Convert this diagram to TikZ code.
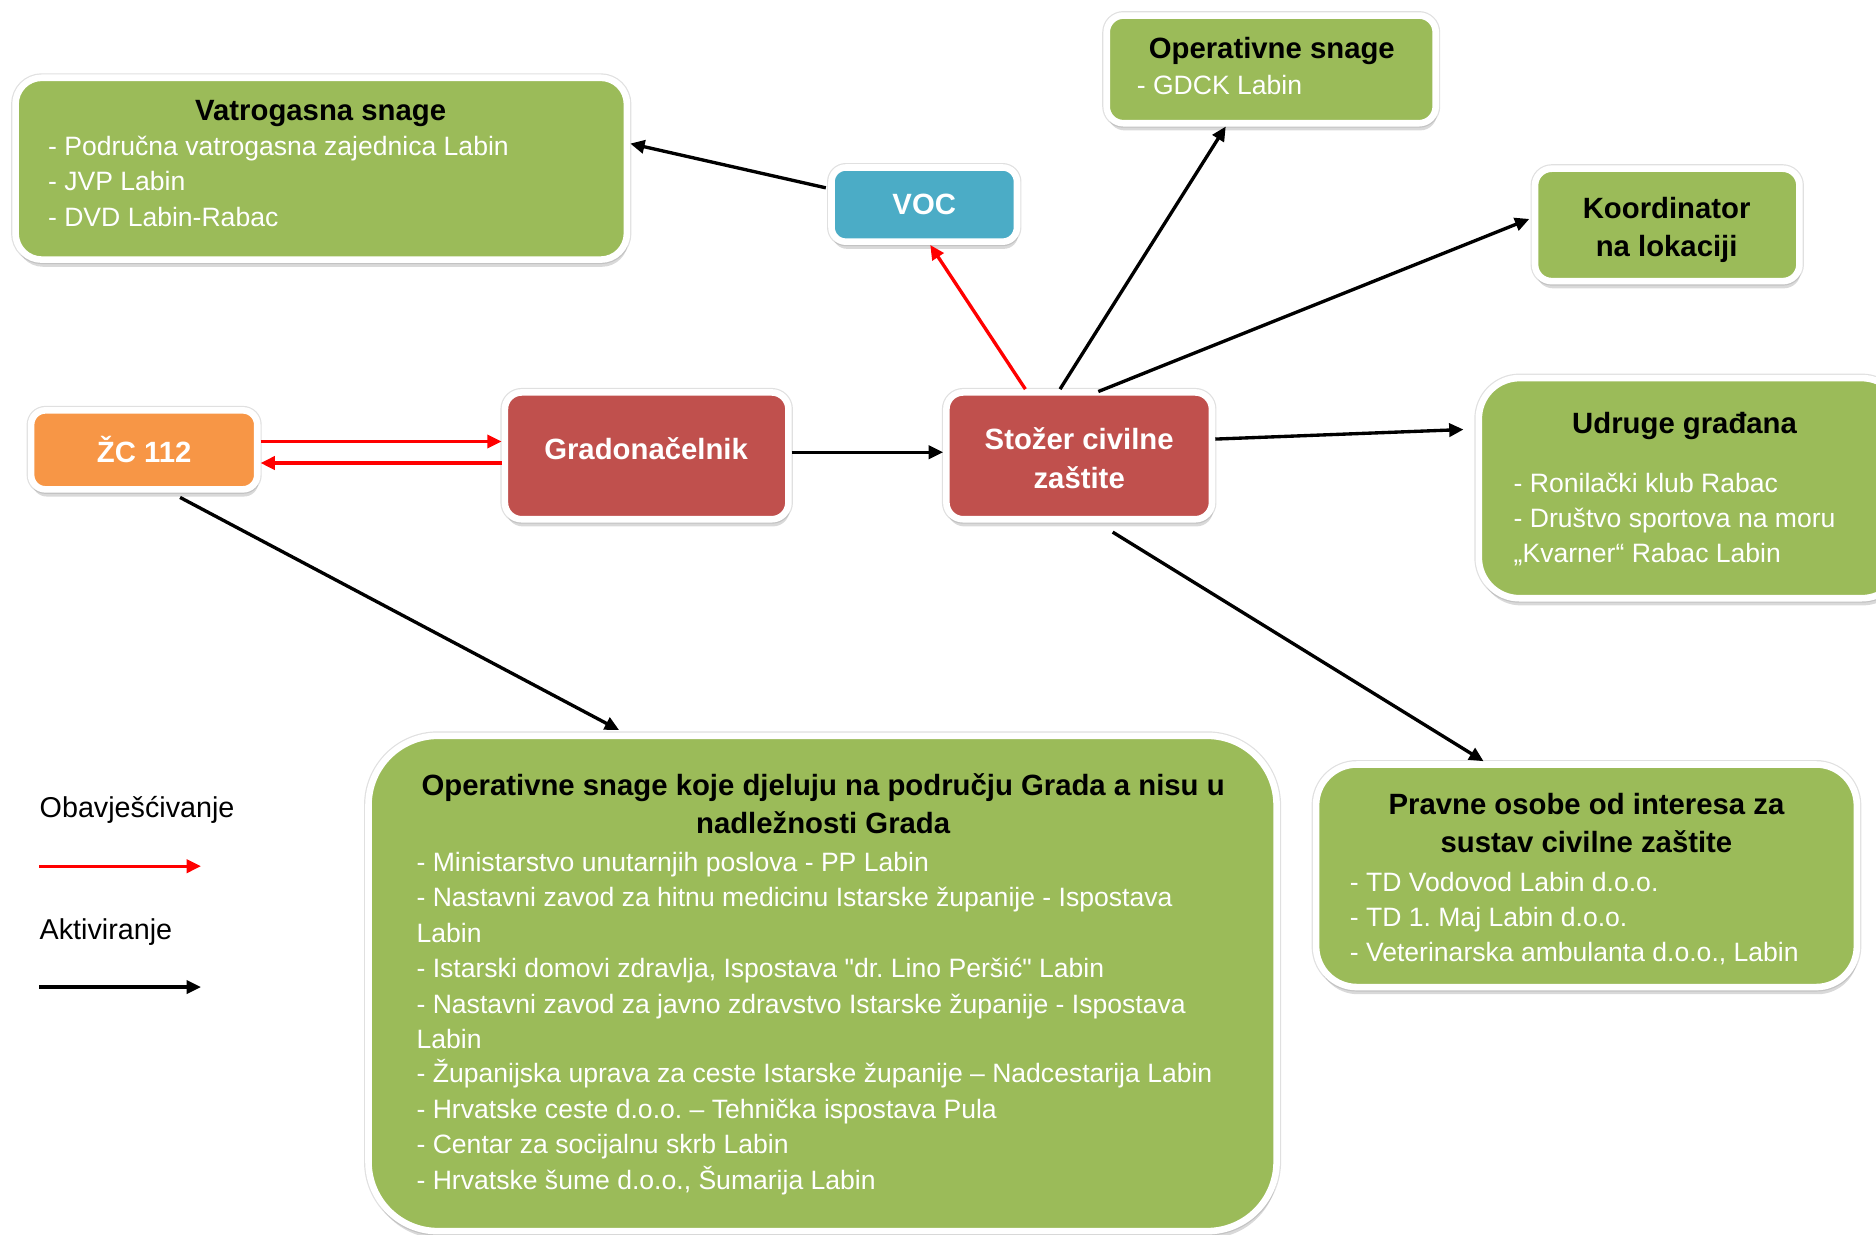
\documentclass[tikz,border=0pt]{standalone}
\usepackage{fontspec}
\setmainfont{Liberation Sans}[Ligatures=TeXOff]
\usetikzlibrary{arrows.meta,shadows,calc}
\definecolor{cgreen}{HTML}{9BBB59}
\definecolor{cblue}{HTML}{4BACC6}
\definecolor{cred}{HTML}{C0504D}
\definecolor{corange}{HTML}{F79646}
\frenchspacing
\begin{document}
\begin{tikzpicture}[x=1pt,y=-1pt,
  box/.style={draw=white, line width=5.5pt, rounded corners=#1, inner sep=0pt,
    preaction={draw=black!12, line width=7.5pt},
    drop shadow={shadow xshift=1pt, shadow yshift=-6pt, opacity=0.3, fill=black!50}},
  ttl/.style={font=\bfseries\fontsize{24.5}{32}\selectfont, text=black, anchor=base, inner sep=0pt},
  wttl/.style={font=\bfseries\fontsize{24.5}{32}\selectfont, text=white, align=center, inner sep=0pt},
  itm/.style={font=\fontsize{22.2}{26}\selectfont, text=white, anchor=base west, inner sep=0pt},
  leg/.style={font=\fontsize{24}{28}\selectfont, text=black, anchor=base west, inner sep=0pt},
  act/.style={draw=black, line width=2.8pt, -{Triangle[length=12pt,width=11pt]}},
  obv/.style={draw=red, line width=2.8pt, -{Triangle[length=12pt,width=11pt]}}]
\useasboundingbox (0,0) rectangle (1568,1032);

% boxes
\node[box=22pt, fill=cgreen, minimum width=511pt, minimum height=152pt] (vat) at (268.5,141) {};
\node[box=12pt, fill=cblue, minimum width=155pt, minimum height=62pt, wttl] (voc) at (772.5,171) {VOC};
\node[box=14pt, fill=cgreen, minimum width=275pt, minimum height=90pt] (ops) at (1062.5,58) {};
\node[box=14pt, fill=cgreen, minimum width=221pt, minimum height=94pt] (koord) at (1393.5,188) {};
\node[box=34pt, fill=cgreen, minimum width=354pt, minimum height=184pt] (udr) at (1413,408) {};
\node[box=12pt, fill=corange, minimum width=189pt, minimum height=66pt, wttl] (zc) at (120.5,376) {ŽC 112};
\node[box=14pt, fill=cred, minimum width=237pt, minimum height=106pt] (grad) at (540.5,381) {};
\node[box=14pt, fill=cred, minimum width=222pt, minimum height=106pt] (stoz) at (902,381) {};
\node[box=58pt, fill=cgreen, minimum width=759pt, minimum height=414pt] (big) at (687.5,822) {};
\node[box=34pt, fill=cgreen, minimum width=452pt, minimum height=186pt] (pravne) at (1326,732) {};

% texts
\node[ttl] (vatT) at (268,100.5) {Vatrogasna snage};
\node[itm] (vat1) at (40,130) {- Područna vatrogasna zajednica Labin};
\node[itm] (vat2) at (40,159) {- JVP Labin};
\node[itm] (vat3) at (40,189) {- DVD Labin-Rabac};

\node[ttl] (opsT) at (1063,48.5) {Operativne snage};
\node[itm] (ops1) at (950,79) {- GDCK Labin};

\node[ttl, align=center, anchor=center] (koordT) at (1393,192) {Koordinator\\na lokaciji};

\node[wttl] (gradT) at (540,375) {Gradonačelnik};
\node[wttl] (stozT) at (902,383) {Stožer civilne\\zaštite};

\node[ttl] (udrT) at (1408,362.5) {Udruge građana};
\node[itm] (udr1) at (1265,412) {- Ronilački klub Rabac};
\node[itm] (udr2) at (1265,441) {- Društvo sportova na moru};
\node[itm] (udr3) at (1265,470) {„Kvarner“ Rabac Labin};

\node[ttl] (pravT1) at (1326,680.5) {Pravne osobe od interesa za};
\node[ttl] (pravT2) at (1326,712.5) {sustav civilne zaštite};
\node[itm] (prav1) at (1128,745) {- TD Vodovod Labin d.o.o.};
\node[itm] (prav2) at (1128,774) {- TD 1. Maj Labin d.o.o.};
\node[itm] (prav3) at (1128,804) {- Veterinarska ambulanta d.o.o., Labin};

\node[ttl] (bigT1) at (688,664.5) {Operativne snage koje djeluju na području Grada a nisu u};
\node[ttl] (bigT2) at (688,696.5) {nadležnosti Grada};
\node[itm] (big1) at (348,728) {- Ministarstvo unutarnjih poslova - PP Labin};
\node[itm] (big2) at (348,758) {- Nastavni zavod za hitnu medicinu Istarske županije - Ispostava};
\node[itm] (big3) at (348,788) {Labin};
\node[itm] (big4) at (348,817) {- Istarski domovi zdravlja, Ispostava "dr. Lino Peršić" Labin};
\node[itm] (big5) at (348,847) {- Nastavni zavod za javno zdravstvo Istarske županije - Ispostava};
\node[itm] (big6) at (348,876) {Labin};
\node[itm] (big7) at (348,905) {- Županijska uprava za ceste Istarske županije – Nadcestarija Labin};
\node[itm] (big8) at (348,935) {- Hrvatske ceste d.o.o. – Tehnička ispostava Pula};
\node[itm] (big9) at (348,964) {- Centar za socijalnu skrb Labin};
\node[itm] (big10) at (348,994) {- Hrvatske šume d.o.o., Šumarija Labin};

% legend
\node[leg] (legO) at (33,683.5) {Obavješćivanje};
\node[leg] (legA) at (33,785.5) {Aktiviranje};
\coordinate (l1a) at (33,724);
\coordinate (l1b) at (168,724);
\coordinate (l2a) at (33,825);
\coordinate (l2b) at (168,825);
\draw[obv] (l1a) -- (l1b);
\draw[act] (l2a) -- (l2b);

% connectors
\draw[act] ([xshift=-2pt,yshift=14pt]voc.west) -- ([yshift=21pt]vat.east);
\draw[obv] ([xshift=-45pt]stoz.north) -- ([xshift=5pt]voc.south);
\draw[act] ([xshift=-16pt]stoz.north) -- ([xshift=-38pt]ops.south);
\draw[act] ([xshift=16pt,yshift=-2pt]stoz.north) -- ([xshift=-2pt,yshift=5pt]koord.west);
\draw[act] ([yshift=14pt]stoz.east) -- ([xshift=-10pt,yshift=49pt]udr.west);
\draw[act] ([xshift=28pt,yshift=-8pt]stoz.south) -- ([xshift=-86pt]pravne.north);
\draw[act] ([yshift=3pt]grad.east) -- ([yshift=3pt]stoz.west);
\draw[obv] ([yshift=7pt]zc.east) -- ([yshift=7pt]zc.east -| grad.west);
\draw[obv] ([yshift=-11pt]zc.east -| grad.west) -- ([yshift=-11pt]zc.east);
\draw[act] ([xshift=30pt,yshift=-4pt]zc.south) -- ([xshift=-170pt,yshift=2pt]big.north);
\end{tikzpicture}
\end{document}
